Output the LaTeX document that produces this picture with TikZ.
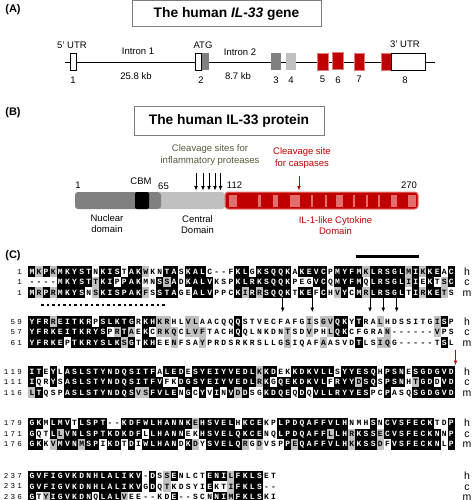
\documentclass[tikz,border=0pt]{standalone}
\usepackage{fontspec}
\setmainfont{Liberation Sans}
\setmonofont{Liberation Mono}
\usepackage{tikz}
\usetikzlibrary{positioning,arrows.meta}

\definecolor{exred}{RGB}{192,0,0}
\definecolor{exredline}{RGB}{232,120,120}
\definecolor{stripered}{RGB}{226,110,110}
\definecolor{darkgr}{RGB}{128,128,128}
\definecolor{lightgr}{RGB}{192,192,192}
\definecolor{boxgr}{RGB}{125,125,125}
\definecolor{protgr}{RGB}{88,88,62}

\tikzset{
	lbl/.style={inner sep=0pt, font=\fontsize{9.5}{11.5}\selectfont},
	panel/.style={inner sep=0pt, font=\bfseries\fontsize{11}{12}\selectfont},
	titlebox/.style={draw=boxgr, line width=1pt, inner sep=0pt, font=\bfseries\fontsize{13.8}{15}\selectfont},
	exon/.style={inner sep=0pt, minimum height=17pt, line width=0.8pt},
	protdom/.style={inner sep=0pt, minimum height=17pt, rounded corners=3pt},
	cleave/.style={-{Latex[length=4.5pt,width=4pt]}, line width=1pt},
	aacell/.style={inner sep=0pt, minimum width=7.2pt, minimum height=10.5pt, text height=5pt, text depth=0pt, font=\ttfamily\bfseries\fontsize{8}{8}\selectfont},
	aablack/.style={aacell, fill=black, text=white},
	aagray/.style={aacell, fill=lightgr},
	aawhite/.style={aacell},
	aagap/.style={aacell},
	aanum/.style={anchor=east, inner sep=0pt, font=\ttfamily\fontsize{7.5}{8}\selectfont\addfontfeature{LetterSpace=30}},
	species/.style={inner sep=0pt, text height=7pt, text depth=0pt, font=\fontsize{10.5}{11}\selectfont},
}

\newcommand\aanode[5]{\node[#1] (#2) at (#3,#4) {#5};}

\ExplSyntaxOn
\str_new:N \l__aa_a_str
\str_new:N \l__aa_b_str
\str_new:N \l__aa_c_str
\str_new:N \l__aa_cons_str
\tl_new:N \l__aa_style_tl
\tl_new:N \l__aa_x_tl
\tl_new:N \l__aa_ya_tl
\tl_new:N \l__aa_yb_tl
\tl_new:N \l__aa_yc_tl
\bool_new:N \l__aa_sim_bool
\clist_const:Nn \c__aa_groups_clist { FYW , ILMV , KRH , DE , NQ , ST , AG }

\cs_new_protected:Npn \__aa_similar:nn #1#2
  {
    \bool_set_false:N \l__aa_sim_bool
    \clist_map_inline:Nn \c__aa_groups_clist
      {
        \str_if_in:nnT {##1} {#1}
          { \str_if_in:nnT {##1} {#2} { \bool_set_true:N \l__aa_sim_bool } }
      }
  }
\cs_generate_variant:Nn \__aa_similar:nn { VV }

% shade of one residue against the other two
\cs_new_protected:Npn \__aa_style:NNN #1#2#3
  {
    \str_if_eq:VnTF #1 { - }
      { \tl_set:Nn \l__aa_style_tl { aagap } }
      {
        \tl_set:Nn \l__aa_style_tl { aawhite }
        \str_if_empty:NTF \l__aa_cons_str
          {
            \__aa_similar:VV #1 #2
            \bool_if:NT \l__aa_sim_bool { \tl_set:Nn \l__aa_style_tl { aagray } }
            \__aa_similar:VV #1 #3
            \bool_if:NT \l__aa_sim_bool { \tl_set:Nn \l__aa_style_tl { aagray } }
          }
          {
            \str_if_eq:NNTF #1 \l__aa_cons_str
              { \tl_set:Nn \l__aa_style_tl { aablack } }
              {
                \__aa_similar:VV #1 \l__aa_cons_str
                \bool_if:NT \l__aa_sim_bool { \tl_set:Nn \l__aa_style_tl { aagray } }
              }
          }
      }
  }

\cs_new_protected:Npn \__aa_cell:nnnN #1#2#3#4
  {
    \use:e { \exp_not:N \aanode { \l__aa_style_tl } {#1} {#2} {#3} { \str_use:N #4 } }
  }

% block: name, y, three start numbers, three sequences
\NewDocumentCommand \aablock { m m m m m m m m }
  {
    \tl_set:Nx \l__aa_ya_tl { \fp_eval:n { #2 } }
    \tl_set:Nx \l__aa_yb_tl { \fp_eval:n { #2 + 10.5 } }
    \tl_set:Nx \l__aa_yc_tl { \fp_eval:n { #2 + 21 } }
    \use:e
      {
        \exp_not:N \aanode { aanum } { num-#1-h } { 22 } { \l__aa_ya_tl } { #3 }
        \exp_not:N \aanode { aanum } { num-#1-c } { 22 } { \l__aa_yb_tl } { #4 }
        \exp_not:N \aanode { aanum } { num-#1-m } { 22 } { \l__aa_yc_tl } { #5 }
        \exp_not:N \aanode { species } { sp-#1-h } { 467 } { \l__aa_ya_tl } { h }
        \exp_not:N \aanode { species } { sp-#1-c } { 467 } { \l__aa_yb_tl } { c }
        \exp_not:N \aanode { species } { sp-#1-m } { 467 } { \l__aa_yc_tl } { m }
      }
    \int_step_inline:nn { \str_count:n {#6} }
      {
        \str_set:Nx \l__aa_a_str { \str_item:nn {#6} {##1} }
        \str_set:Nx \l__aa_b_str { \str_item:nn {#7} {##1} }
        \str_set:Nx \l__aa_c_str { \str_item:nn {#8} {##1} }
        \str_clear:N \l__aa_cons_str
        \str_if_eq:NNTF \l__aa_a_str \l__aa_b_str
          { \str_set_eq:NN \l__aa_cons_str \l__aa_a_str }
          {
            \str_if_eq:NNTF \l__aa_a_str \l__aa_c_str
              { \str_set_eq:NN \l__aa_cons_str \l__aa_a_str }
              {
                \str_if_eq:NNT \l__aa_b_str \l__aa_c_str
                  { \str_set_eq:NN \l__aa_cons_str \l__aa_b_str }
              }
          }
        \str_if_eq:VnT \l__aa_cons_str { - } { \str_clear:N \l__aa_cons_str }
        \tl_set:Nx \l__aa_x_tl { \fp_eval:n { 31.9 + (##1 - 1) * 7.11 } }
        \__aa_style:NNN \l__aa_a_str \l__aa_b_str \l__aa_c_str
        \__aa_cell:nnnN { aa-#1-h-##1 } { \l__aa_x_tl } { \l__aa_ya_tl } \l__aa_a_str
        \__aa_style:NNN \l__aa_b_str \l__aa_a_str \l__aa_c_str
        \__aa_cell:nnnN { aa-#1-c-##1 } { \l__aa_x_tl } { \l__aa_yb_tl } \l__aa_b_str
        \__aa_style:NNN \l__aa_c_str \l__aa_a_str \l__aa_b_str
        \__aa_cell:nnnN { aa-#1-m-##1 } { \l__aa_x_tl } { \l__aa_yc_tl } \l__aa_c_str
      }
  }
\ExplSyntaxOff

\begin{document}
\begin{tikzpicture}[x=1pt,y=-1pt]
	\useasboundingbox (0,0) rectangle (474,500);

	% (A) the gene
	\node[panel] (pa) at (13,9.5) {(A)};
	\node[titlebox, minimum width=189pt, minimum height=26pt] (genetitle) at (226.5,14) {The human \textit{IL-33} gene};

	\coordinate (genestart) at (65,62);
	\coordinate (geneend) at (435,62);
	\draw[line width=0.9pt] (genestart) -- (geneend);

	\node[exon, draw, fill=white, minimum width=6pt] (ex1) at (73,61.5) {};
	\node[exon, draw, fill=white, minimum width=6pt] (ex2) at (198,61.5) {};
	\node[exon, fill=darkgr, minimum width=7pt, right=0pt of ex2] (ex2b) {};
	\node[exon, fill=darkgr, minimum width=10pt] (ex3) at (276,61.5) {};
	\node[exon, fill=lightgr, minimum width=10pt] (ex4) at (291,61.5) {};
	\node[exon, fill=exred, draw=exredline, line width=0.5pt, minimum width=11pt] (ex5) at (322.5,61.5) {};
	\node[exon, fill=exred, draw=exredline, line width=0.5pt, minimum width=11pt] (ex6) at (337.5,61) {};
	\node[exon, fill=exred, draw=exredline, line width=0.5pt, minimum width=10pt] (ex7) at (359,61.5) {};
	\node[exon, fill=exred, draw=exredline, line width=0.5pt, minimum width=10pt] (ex8) at (386,61.5) {};
	\node[exon, draw, fill=white, minimum width=34pt, right=0pt of ex8] (ex8b) {};

	\node[lbl] (utr5) at (72,45) {5' UTR};
	\node[lbl] (intr1) at (138,51) {Intron 1};
	\node[lbl] (atg) at (203,45) {ATG};
	\node[lbl] (intr2) at (240,52) {Intron 2};
	\node[lbl] (utr3) at (405,44) {3' UTR};
	\node[lbl] (kb1) at (136,76.5) {25.8 kb};
	\node[lbl] (kb2) at (238,76) {8.7 kb};
	\node[lbl, below=6pt of ex1] (n1) {1};
	\node[lbl] (n2) at (201,80) {2};
	\node[lbl, below=6pt of ex3] (n3) {3};
	\node[lbl, below=6pt of ex4] (n4) {4};
	\node[lbl, below=6pt of ex5] (n5) {5};
	\node[lbl] (n6) at (338,80) {6};
	\node[lbl, below=6pt of ex7] (n7) {7};
	\node[lbl] (n8) at (405,80) {8};

	% (B) the protein
	\node[panel] (pb) at (13,113) {(B)};
	\node[titlebox, minimum width=190pt, minimum height=28pt] (prottitle) at (229,121) {The human IL-33 protein};

	\node[lbl, text=protgr, align=center] (proteases) at (210,155) {Cleavage sites for\\inflammatory proteases};
	\node[lbl, text=exred, align=center] (caspases) at (302,158) {Cleavage site\\for caspases};

	\node[protdom, fill=lightgr, minimum width=67pt] (central) at (191.5,200.5) {};
	\node[protdom, fill=darkgr, minimum width=86pt] (nuclear) at (118,200.5) {};
	\node[protdom, fill=black, rounded corners=2pt, minimum width=14pt] (cbm) at (142,200.5) {};
	\node[protdom, fill=exred, draw=exredline, line width=1pt, minimum width=193pt] (cytokine) at (321.5,200.5) {};
	\foreach \sa/\sb in {229.3/237.3, 258.3/260.7, 273.3/278.3, 290/300, 311/313, 325/326.7, 336/342.7, 353.3/355, 366/367.7, 378.3/380, 390.7/397.3, 408.3/416}
		\fill[stripered] (\sa,194.5) rectangle (\sb,206.5);

	\node[lbl] (p1) at (78,185) {1};
	\node[lbl] (pcbm) at (141,181) {CBM};
	\node[lbl] (p65) at (163.5,186.5) {65};
	\node[lbl] (p112) at (234.5,185.5) {112};
	\node[lbl] (p270) at (409,185.5) {270};

	\node[lbl, align=center] (nuclbl) at (107,223.7) {Nuclear\\domain};
	\node[lbl, align=center] (cenlbl) at (197.5,224.5) {Central\\Domain};
	\node[lbl, text=exred, align=center] (cytlbl) at (335.5,225.8) {IL-1-like Cytokine\\Domain};

	\foreach \ax [count=\ai] in {196,203,209,215,220.5}{
		\coordinate (pt\ai) at (\ax,173);
		\coordinate (ph\ai) at (\ax,190.5);
		\draw[cleave] (pt\ai) -- (ph\ai);
	}
	\coordinate (casptail) at (299,176);
	\coordinate (casphead) at (299,190.5);
	\draw[cleave, exred] (casptail) -- (casphead);

	% (C) the alignment
	\node[panel] (pc) at (13,256) {(C)};
	\coordinate (bara) at (356,256.5);
	\coordinate (barb) at (419,256.5);
	\draw[line width=3pt] (bara) -- (barb);

	\aablock{b1}{271.7}{1}{1}{1}%
		{MKPKMKYSTNKISTAKWKNTASKALC--FKLGKSQQKAKEVCPMYFMKLRSGLMIKKEAC}%
		{----MKYSTTKIPPAKMNSSADKALVKSPKLRKSQQKPEGVCQMYFMQLRSGLIIEKTSC}%
		{MRPRMKYSNSKISPAKFSSTAGEALVPPCKIRRSQQKTKEFCHVYCMRLRSGLTIRKETS}

	\coordinate (dota) at (41,305);
	\coordinate (dotb) at (167,305);
	\draw[line width=2.6pt, dash pattern=on 2.7pt off 2.8pt] (dota) -- (dotb);
	\foreach \ax [count=\ai] in {282.7,312.3,370,383.3,396.7}{
		\coordinate (ct\ai) at (\ax,298);
		\coordinate (ch\ai) at (\ax,312);
		\draw[cleave] (ct\ai) -- (ch\ai);
	}

	\aablock{b2}{321.7}{59}{57}{61}%
		{YFRREITKRPSLKTGRKHKRHLVLAACQQQSTVECFAFGISGVQKYTRALHDSSITGISP}%
		{YFRKEITKRYSPRTAEKCRKQCLVFTACHQQLNKDNTSDVPHLQKCFGRAN------VPS}%
		{YFRKEPTKRYSLKSGTKHEENFSAYPRDSRKRSLLGSIQAFAASVDTLSIQG-----TSL}

	\coordinate (rt) at (455.5,350);
	\coordinate (rh) at (455.5,365);
	\draw[cleave, exred] (rt) -- (rh);

	\aablock{b3}{371.7}{119}{111}{116}%
		{ITEYLASLSTYNDQSITFALEDESYEIYVEDLKKDEKKDKVLLSYYESQHPSNESGDGVD}%
		{IQRYSASLSTYNDQSITFVFKDGSYEIYVEDLRKGQEKDKVLFRYYDSQSPSNHTGDDVD}%
		{LTQSPASLSTYNDQSVSFVLENGCYVINVDDSGKDQEQDQVLLRYYESPCPASQSGDGVD}

	\aablock{b4}{423.3}{179}{171}{176}%
		{GKMLMVTLSPT--KDFWLHANNKEHSVELHKCEKPLPDQAFFVLHNMHSNCVSFECKTDP}%
		{GQTLLVNLSPTKDKDFLLHANNEKHSVELQKCENQLPDQAFFLLHRKSSECVSFECKNNP}%
		{GKKVMVNMSPIKDTDIWLHANDKDYSVELQRGDVSPPEQAFFVLHKKSSDFVSFECKNLP}

	\aablock{b5}{476}{237}{231}{236}%
		{GVFIGVKDNHLALIKV-DSSENLCTENILFKLSET}%
		{GVFIGVKDNHLALIKVGDQTKDSYIEKTIFKLS--}%
		{GTYIGVKDNQLALVEE--KDE--SCNNIMFKLSKI}
\end{tikzpicture}
\end{document}
